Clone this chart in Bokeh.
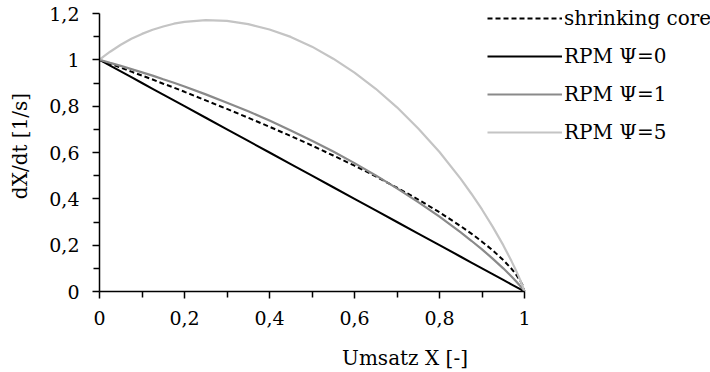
from bokeh.plotting import figure
from bokeh.models import Range1d, FixedTicker, Legend, LegendItem
from bokeh.embed import file_html
from bokeh.resources import INLINE

# Data
x_vals = [0, 0.01, 0.025, 0.05, 0.075, 0.1, 0.125, 0.15, 0.175, 0.2, 0.25,
          0.3, 0.35, 0.4, 0.45, 0.5, 0.55, 0.6, 0.65, 0.7, 0.75, 0.8, 0.85,
          0.875, 0.9, 0.925, 0.95, 0.97, 0.98, 0.99, 0.995, 1.0]
shrinking_core = [1.0, 0.993, 0.983, 0.966, 0.949, 0.932, 0.915, 0.897, 0.880,
                  0.862, 0.825, 0.788, 0.750, 0.711, 0.671, 0.630, 0.587,
                  0.543, 0.497, 0.448, 0.397, 0.342, 0.282, 0.250, 0.215,
                  0.178, 0.136, 0.097, 0.074, 0.046, 0.029, 0.0]
rpm_psi0 = [1.0, 0.99, 0.975, 0.95, 0.925, 0.90, 0.875, 0.85, 0.825, 0.80,
            0.75, 0.70, 0.65, 0.60, 0.55, 0.50, 0.45, 0.40, 0.35, 0.30, 0.25,
            0.20, 0.15, 0.125, 0.10, 0.075, 0.05, 0.03, 0.02, 0.01, 0.005, 0.0]
rpm_psi1 = [1.0, 0.995, 0.987, 0.974, 0.960, 0.946, 0.932, 0.916, 0.901,
            0.885, 0.851, 0.815, 0.778, 0.738, 0.695, 0.651, 0.604, 0.554,
            0.501, 0.445, 0.386, 0.323, 0.255, 0.219, 0.182, 0.142, 0.100,
            0.064, 0.044, 0.024, 0.013, 0.0]
rpm_psi5 = [1.0, 1.015, 1.035, 1.065, 1.091, 1.112, 1.130, 1.144, 1.156,
            1.164, 1.171, 1.168, 1.154, 1.131, 1.099, 1.057, 1.005, 0.945,
            0.875, 0.795, 0.704, 0.602, 0.486, 0.422, 0.354, 0.280, 0.200,
            0.129, 0.091, 0.049, 0.026, 0.0]

x_ticks = [0, 0.2, 0.4, 0.6, 0.8, 1.0]
x_tick_labels = ["0", "0,2", "0,4", "0,6", "0,8", "1"]
x_minor = [0.1, 0.3, 0.5, 0.7, 0.9]
y_ticks = [0, 0.2, 0.4, 0.6, 0.8, 1.0, 1.2]
y_tick_labels = ["0", "0,2", "0,4", "0,6", "0,8", "1", "1,2"]
y_minor = [0.1, 0.3, 0.5, 0.7, 0.9, 1.1]

labels = ["shrinking core", "RPM \u03a8=0", "RPM \u03a8=1", "RPM \u03a8=5"]

FONT = "DejaVu Serif"
FS = "19px"
FS_L = "20px"

p = figure(width=710, height=372, output_backend="svg", toolbar_location=None,
           x_range=Range1d(0, 611 / 425), y_range=Range1d(0, 1.2 * 291 / 278),
           min_border_left=99, min_border_right=0, min_border_top=0,
           min_border_bottom=81)
p.outline_line_color = None
p.xgrid.visible = False
p.ygrid.visible = False
p.background_fill_color = "white"
p.border_fill_color = "white"

r_sc = p.line(x_vals, shrinking_core, line_color="black", line_width=2,
              line_dash="5 3")
r0 = p.line(x_vals, rpm_psi0, line_color="black", line_width=2)
r1 = p.line(x_vals, rpm_psi1, line_color="#8a8a8a", line_width=2.2)
r5 = p.line(x_vals, rpm_psi5, line_color="#c4c4c4", line_width=2.2)

for ax, ticks, tl, minor in [(p.xaxis[0], x_ticks, x_tick_labels, x_minor),
                             (p.yaxis[0], y_ticks, y_tick_labels, y_minor)]:
    ax.ticker = FixedTicker(ticks=ticks, minor_ticks=minor)
    ax.major_label_overrides = {t: l for t, l in zip(ticks, tl)}
    ax.axis_line_color = "black"
    ax.axis_line_width = 1.5
    ax.major_tick_line_color = "black"
    ax.minor_tick_line_color = "black"
    ax.major_tick_line_width = 1.5
    ax.minor_tick_line_width = 1.5
    ax.major_tick_in = 0
    ax.major_tick_out = 7
    ax.minor_tick_in = 0
    ax.minor_tick_out = 6
    ax.major_label_text_font = FONT
    ax.major_label_text_font_size = FS
    ax.major_label_text_color = "black"
    ax.axis_label_text_font = FONT
    ax.axis_label_text_font_size = FS_L
    ax.axis_label_text_font_style = "normal"
    ax.axis_label_text_color = "black"

p.xaxis[0].bounds = (0, 1)
p.yaxis[0].bounds = (0, 1.2)
p.xaxis[0].axis_label = "Umsatz X [-]"
p.xaxis[0].major_label_standoff = 12
p.xaxis[0].axis_label_standoff = 18
p.yaxis[0].axis_label = "dX/dt [1/s]"
p.yaxis[0].major_label_standoff = 13
p.yaxis[0].axis_label_standoff = 14

legend = Legend(items=[LegendItem(label=l, renderers=[r])
                       for l, r in zip(labels, [r_sc, r0, r1, r5])],
                location=(388, 147), glyph_width=75, glyph_height=22,
                label_height=22, spacing=14, padding=0, margin=0,
                label_standoff=2, border_line_alpha=0,
                background_fill_alpha=0, label_text_font=FONT,
                label_text_font_size=FS_L, label_text_color="black")
p.add_layout(legend, "center")

open("out.html", "w").write(file_html(p, INLINE))
